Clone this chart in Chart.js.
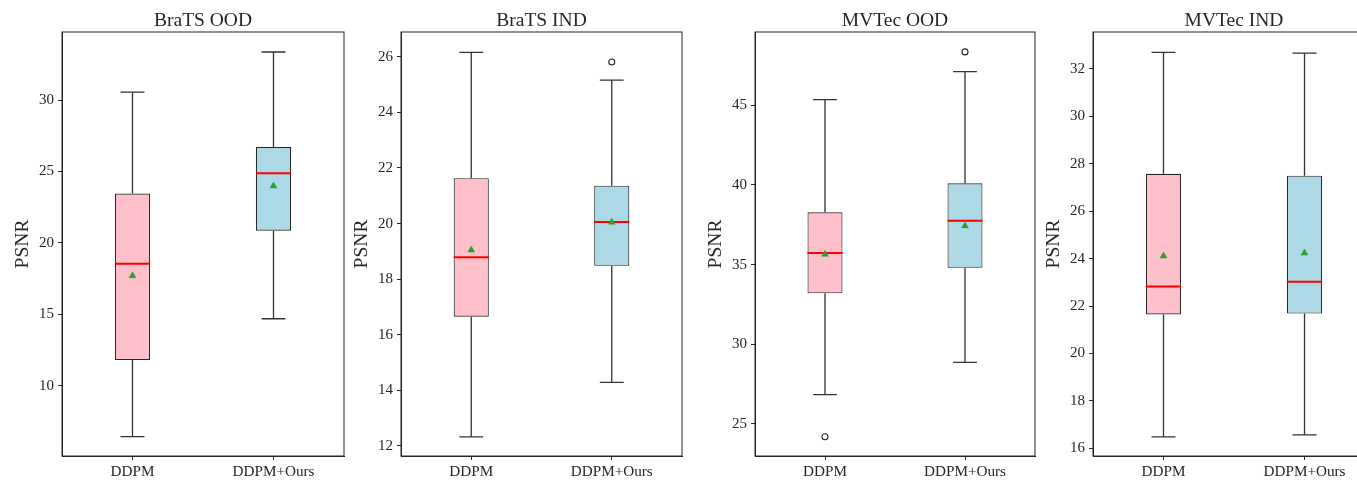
<!DOCTYPE html>
<html>
<head>
<meta charset="utf-8">
<script src="https://cdn.jsdelivr.net/npm/chart.js@4.4.1/dist/chart.umd.min.js"></script>
<style>
  html, body { margin: 0; padding: 0; background: #fff; overflow: hidden; }
  #wrap { position: relative; width: 1357px; height: 480px; overflow: hidden; }
  #wrap canvas { position: absolute; top: 0; }
</style>
</head>
<body>
<div id="wrap">
  <canvas id="c0"></canvas>
  <canvas id="c1"></canvas>
  <canvas id="c2"></canvas>
  <canvas id="c3"></canvas>
</div>
<script>
// values, one pair [DDPM, DDPM+Ours] per panel
const categories = ['DDPM', 'DDPM+Ours'];
const panelTitles = ['BraTS OOD', 'BraTS IND', 'MVTec OOD', 'MVTec IND'];
const whiskerLow = [[6.46, 14.70], [12.33, 14.29], [26.84, 28.87], [16.49, 16.57]];
const boxQ1 = [[11.82, 20.86], [16.65, 18.48], [33.20, 34.80], [21.65, 21.69]];
const medians = [[18.55, 24.88], [18.79, 20.06], [35.73, 37.76], [22.83, 23.03]];
const boxQ3 = [[23.46, 26.72], [21.63, 21.36], [38.28, 40.10], [27.58, 27.50]];
const whiskerHigh = [[30.56, 33.36], [26.16, 25.16], [45.35, 47.11], [32.70, 32.67]];
const means = [[17.71, 23.99], [19.05, 20.05], [35.65, 37.43], [24.11, 24.24]];
const outliers = [[null, null], [null, 25.81], [24.20, 48.35], [null, null]];
const yMin = [5.1, 11.64, 22.99, 15.68];
const yMax = [34.76, 26.89, 49.6, 33.56];
const yStep = [5, 2, 5, 2];

const boxColors = ['#ffc0cb', '#add8e6'];
const ink = '#262626';
const serif = "'Liberation Serif', 'Times New Roman', serif";

// where each panel sits on the page
const canvasLeft = [0, 339, 693, 1031];
const plotWidth = [282, 281, 280, 282];
const axisWidth = 62;
const padRight = 10;

const boxParts = {
  id: 'boxParts',
  beforeDatasetsDraw(chart, args, opts) {
    const { ctx, scales: { x, y } } = chart;
    const bars = chart.getDatasetMeta(0).data;
    ctx.save();
    ctx.strokeStyle = '#333';
    ctx.lineWidth = 1.3;
    bars.forEach((bar, i) => {
      const cx = x.getPixelForValue(i);
      const cap = bar.width * 0.34;
      [[opts.q3[i], opts.high[i]], [opts.q1[i], opts.low[i]]].forEach(([from, to]) => {
        const y0 = y.getPixelForValue(from);
        const y1 = y.getPixelForValue(to);
        ctx.beginPath();
        ctx.moveTo(cx, y0);
        ctx.lineTo(cx, y1);
        ctx.moveTo(cx - cap, y1);
        ctx.lineTo(cx + cap, y1);
        ctx.stroke();
      });
    });
    ctx.restore();
  },
  afterDatasetDraw(chart, args, opts) {
    if (args.index !== 0) return;
    const { ctx, scales: { x, y } } = chart;
    ctx.save();
    ctx.strokeStyle = '#ff0000';
    ctx.lineWidth = 2;
    args.meta.data.forEach((bar, i) => {
      const cx = x.getPixelForValue(i);
      const my = y.getPixelForValue(opts.med[i]);
      ctx.beginPath();
      ctx.moveTo(cx - bar.width / 2, my);
      ctx.lineTo(cx + bar.width / 2, my);
      ctx.stroke();
    });
    ctx.restore();
  },
  afterDraw(chart) {
    const { ctx, chartArea: a } = chart;
    ctx.save();
    ctx.strokeStyle = ink;
    ctx.lineWidth = 1;
    ctx.strokeRect(a.left, a.top, a.right - a.left, a.bottom - a.top);
    ctx.restore();
  }
};

panelTitles.forEach((title, p) => {
  const canvas = document.getElementById('c' + p);
  canvas.width = axisWidth + plotWidth[p] + padRight;
  canvas.height = 480;
  canvas.style.left = canvasLeft[p] + 'px';

  new Chart(canvas, {
    type: 'bar',
    data: {
      labels: categories,
      datasets: [
        {
          data: categories.map((c, i) => [boxQ1[p][i], boxQ3[p][i]]),
          backgroundColor: boxColors,
          borderColor: ink,
          borderWidth: 1.1,
          borderSkipped: false,
          barPercentage: 0.25,
          categoryPercentage: 1,
          order: 2
        },
        {
          type: 'line',
          data: means[p],
          showLine: false,
          pointStyle: 'triangle',
          pointRadius: 4,
          pointBackgroundColor: '#2ca02c',
          pointBorderColor: '#2ca02c',
          pointBorderWidth: 0.5,
          order: 1
        },
        {
          type: 'line',
          data: outliers[p],
          showLine: false,
          pointStyle: 'circle',
          pointRadius: 3,
          pointBackgroundColor: '#ffffff',
          pointBorderColor: ink,
          pointBorderWidth: 1.1,
          order: 1
        }
      ]
    },
    options: {
      responsive: false,
      animation: false,
      layout: { padding: { left: 0, right: padRight, top: 0, bottom: 0 } },
      plugins: {
        legend: { display: false },
        tooltip: { enabled: false },
        title: {
          display: true,
          text: title,
          fullSize: false,
          color: ink,
          font: { family: serif, size: 19.5, weight: 'normal', lineHeight: 1.1 },
          padding: { top: 10, bottom: 0.55 }
        },
        boxParts: {
          low: whiskerLow[p], q1: boxQ1[p], med: medians[p],
          q3: boxQ3[p], high: whiskerHigh[p]
        }
      },
      scales: {
        x: {
          offset: true,
          grid: { display: true, drawOnChartArea: false, offset: false, drawTicks: true, tickLength: 4, color: ink },
          border: { display: true, color: ink },
          ticks: { color: ink, padding: 3, font: { family: serif, size: 15.2 } },
          afterFit(scale) { scale.height = 24; }
        },
        y: {
          min: yMin[p],
          max: yMax[p],
          grid: { display: true, drawOnChartArea: false, drawTicks: true, tickLength: 4, color: ink },
          border: { display: true, color: ink },
          ticks: { stepSize: yStep[p], includeBounds: false, color: ink, padding: 4, font: { family: serif, size: 15 } },
          title: {
            display: true,
            text: 'PSNR',
            color: ink,
            font: { family: serif, size: 19.5, lineHeight: 1.2 },
            padding: { top: 11, bottom: 0 }
          },
          afterFit(scale) { scale.width = axisWidth; }
        }
      }
    },
    plugins: [boxParts]
  });
});
</script>
</body>
</html>
